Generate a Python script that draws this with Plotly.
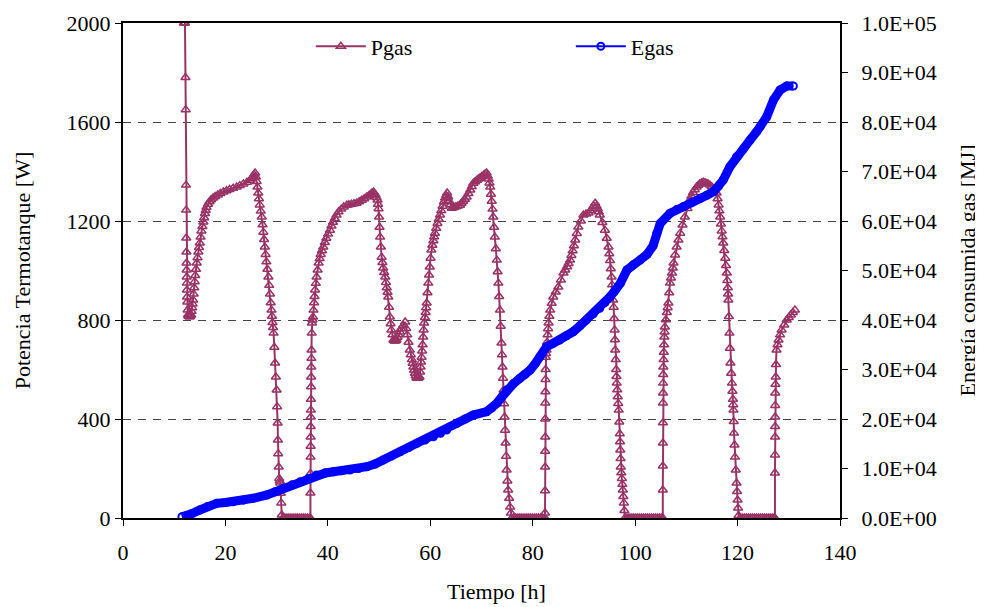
import plotly.graph_objects as go

# ---- data: (time [h], Pgas [W]) ----
pgas_pairs = [
    (11.9, 2000), (12.0, 2000), (12.1, 2000), (12.2, 1780), (12.25, 1650), (12.3, 1345), (12.32, 1244),
    (12.35, 1131), (12.38, 1075), (12.4, 1030), (12.42, 1002), (12.44, 974), (12.46, 949), (12.48, 921),
    (12.5, 893), (12.55, 873), (12.6, 840), (12.7, 820), (12.8, 815), (12.9, 815), (13.0, 812), (13.1, 815),
    (13.2, 818), (13.3, 820), (13.4, 835), (13.5, 850), (13.6, 865), (13.7, 881), (13.8, 905), (13.9, 930),
    (14.0, 955), (14.1, 980), (14.25, 1005), (14.4, 1030), (14.55, 1052), (14.7, 1075), (14.85, 1093),
    (15.0, 1111), (15.15, 1135), (15.3, 1160), (15.5, 1178), (15.7, 1196), (15.85, 1213), (16.0, 1230),
    (16.15, 1243), (16.3, 1256), (16.6, 1268), (16.9, 1278), (17.2, 1286), (17.6, 1293), (18.0, 1299),
    (18.5, 1305), (19.0, 1311), (19.6, 1317), (20.2, 1322), (20.8, 1327), (21.5, 1332), (22.2, 1337),
    (22.8, 1343), (23.5, 1350), (24.2, 1357), (24.8, 1365), (25.1, 1372), (25.4, 1380), (25.6, 1387),
    (25.8, 1394), (25.95, 1378), (26.1, 1360), (26.25, 1337), (26.4, 1313), (26.55, 1290), (26.7, 1265),
    (26.9, 1240), (27.1, 1216), (27.25, 1185), (27.4, 1155), (27.55, 1125), (27.7, 1095), (27.85, 1065),
    (28.0, 1035), (28.2, 1005), (28.4, 974), (28.55, 940), (28.7, 905), (28.85, 870), (29.0, 840),
    (29.1, 815), (29.2, 790), (29.3, 770), (29.4, 747), (29.55, 690), (29.7, 626), (29.85, 570), (30.0, 517),
    (30.1, 450), (30.2, 384), (30.25, 315), (30.3, 260), (30.4, 206), (30.5, 160), (30.6, 150), (30.7, 141),
    (30.8, 100), (30.9, 61), (31.0, 12), (31.2, 0), (31.6, 0), (32.0, 0), (32.4, 0), (32.8, 0), (33.2, 0),
    (33.6, 0), (34.0, 0), (34.4, 0), (34.8, 0), (35.2, 0), (35.6, 0), (36.0, 0), (36.4, 0),
    (36.6, 0), (36.6, 101), (36.61, 180), (36.62, 246), (36.63, 290), (36.64, 327), (36.65, 370), (36.66, 408),
    (36.68, 436), (36.7, 480), (36.72, 530), (36.74, 570), (36.76, 610), (36.78, 645), (36.8, 679),
    (36.85, 747), (36.9, 788), (37.0, 800), (37.1, 812), (37.2, 840), (37.3, 870), (37.4, 895), (37.5, 921),
    (37.65, 948), (37.8, 974), (38.0, 1002), (38.2, 1030), (38.4, 1048), (38.6, 1065), (38.85, 1080),
    (39.1, 1095), (39.4, 1113), (39.7, 1130), (40.05, 1147), (40.4, 1163), (40.7, 1180), (41.0, 1195),
    (41.35, 1210), (41.7, 1224), (42.1, 1237), (42.6, 1248), (43.1, 1257), (43.7, 1264), (44.1, 1266),
    (44.6, 1268), (45.1, 1270), (45.6, 1272), (46.1, 1278), (46.6, 1284), (47.1, 1290), (47.6, 1297),
    (48.0, 1302), (48.3, 1307), (48.6, 1312), (48.9, 1317), (49.1, 1311), (49.3, 1305), (49.5, 1295),
    (49.7, 1285), (49.8, 1268), (49.9, 1250), (50.0, 1216), (50.1, 1175), (50.2, 1135), (50.35, 1095),
    (50.5, 1054), (50.65, 1032), (50.8, 1010), (51.0, 992), (51.2, 974), (51.35, 952), (51.5, 930),
    (51.65, 912), (51.8, 893), (51.95, 852), (52.1, 812), (52.25, 785), (52.4, 760), (52.6, 740), (52.8, 719),
    (52.95, 716), (53.1, 715), (53.25, 716), (53.4, 719), (53.6, 730), (53.8, 740), (54.05, 752), (54.3, 765),
    (54.7, 778), (55.1, 792), (55.3, 766), (55.5, 740), (55.75, 710), (56.0, 679), (56.2, 660), (56.4, 640),
    (56.55, 625), (56.7, 610), (56.85, 597), (57.0, 585), (57.15, 575), (57.3, 566), (57.45, 565), (57.6, 565),
    (57.75, 567), (57.9, 570), (58.0, 590), (58.1, 610), (58.2, 630), (58.3, 650), (58.4, 675), (58.5, 700),
    (58.6, 731), (58.7, 760), (58.8, 788), (58.95, 810), (59.1, 830), (59.2, 850), (59.3, 869), (59.45, 910),
    (59.6, 949), (59.75, 982), (59.9, 1014), (60.05, 1050), (60.2, 1083), (60.4, 1102), (60.6, 1120),
    (60.75, 1136), (60.9, 1151), (61.15, 1171), (61.4, 1190), (61.65, 1207), (61.9, 1224), (62.15, 1242),
    (62.4, 1260), (62.65, 1277), (62.9, 1293), (63.1, 1303), (63.3, 1313), (63.5, 1297), (63.7, 1280),
    (63.95, 1266), (64.2, 1252), (64.6, 1255), (65.0, 1258), (65.4, 1261), (65.8, 1264), (66.1, 1272),
    (66.4, 1280), (66.75, 1288), (67.1, 1297), (67.45, 1311), (67.8, 1325), (68.1, 1339), (68.4, 1353),
    (68.75, 1359), (69.1, 1365), (69.4, 1370), (69.7, 1374), (70.05, 1380), (70.4, 1385), (70.7, 1390),
    (71.0, 1394), (71.2, 1382), (71.4, 1370), (71.55, 1354), (71.7, 1337), (71.85, 1308), (72.0, 1280),
    (72.15, 1248), (72.3, 1216), (72.45, 1175), (72.6, 1135), (72.8, 1088), (73.0, 1042), (73.15, 995),
    (73.3, 949), (73.45, 895), (73.6, 840), (73.75, 775), (73.9, 707), (74.0, 660), (74.1, 610), (74.2, 565),
    (74.3, 517), (74.4, 462), (74.5, 408), (74.6, 355), (74.7, 303), (74.8, 250), (74.9, 194), (75.05, 150),
    (75.2, 113), (75.4, 80), (75.6, 44), (75.75, 20), (75.9, 0), (76.3, 0), (76.7, 0), (77.1, 0), (77.5, 0),
    (77.9, 0), (78.3, 0), (78.7, 0), (79.1, 0), (79.5, 0), (79.9, 0), (80.3, 0), (80.7, 0), (81.1, 0),
    (81.5, 0), (81.9, 0), (82.3, 0),
    (82.4, 0), (82.4, 20), (82.41, 110), (82.42, 206), (82.43, 270), (82.44, 327), (82.45, 400), (82.46, 465),
    (82.48, 510), (82.5, 560), (82.52, 600), (82.55, 650), (82.6, 665), (82.7, 679), (82.8, 710), (82.9, 740),
    (83.0, 765), (83.1, 788), (83.25, 815), (83.4, 840), (83.7, 868), (84.0, 893), (84.5, 913), (85.0, 933),
    (85.5, 962), (86.0, 990), (86.35, 1002), (86.7, 1015), (87.0, 1028), (87.3, 1042), (87.55, 1061),
    (87.8, 1080), (88.05, 1100), (88.3, 1123), (88.6, 1150), (88.9, 1176), (89.4, 1200), (89.9, 1224),
    (90.4, 1228), (90.9, 1232), (91.25, 1241), (91.6, 1250), (91.9, 1261), (92.2, 1272), (92.45, 1261),
    (92.7, 1250), (92.9, 1237), (93.1, 1224), (93.6, 1194), (94.1, 1163), (94.45, 1130), (94.8, 1095),
    (94.95, 1068), (95.1, 1040), (95.25, 1007), (95.4, 974), (95.5, 942), (95.6, 910), (95.7, 881),
    (95.8, 852), (95.9, 806), (96.0, 760), (96.05, 720), (96.1, 679), (96.2, 640), (96.3, 600), (96.35, 572),
    (96.4, 545), (96.5, 518), (96.6, 490), (96.7, 463), (96.8, 436), (96.9, 388), (97.0, 340), (97.05, 308),
    (97.1, 275), (97.15, 240), (97.2, 206), (97.3, 183), (97.4, 160), (97.5, 136), (97.6, 113), (97.7, 87),
    (97.8, 61), (97.9, 30), (98.0, 0), (98.4, 0), (98.8, 0), (99.2, 0), (99.6, 0), (100.0, 0), (100.4, 0),
    (100.8, 0), (101.2, 0), (101.6, 0), (102.0, 0), (102.4, 0), (102.8, 0), (103.2, 0), (103.6, 0),
    (104.0, 0), (104.4, 0), (104.8, 0), (105.2, 0),
    (105.4, 0), (105.4, 113), (105.41, 210), (105.42, 303), (105.43, 385), (105.44, 465), (105.45, 505),
    (105.46, 545), (105.48, 580), (105.5, 610), (105.55, 640), (105.6, 670), (105.65, 700), (105.7, 731),
    (105.75, 752), (105.8, 772), (106.0, 801), (106.2, 830), (106.35, 850), (106.5, 869), (106.65, 910),
    (106.8, 949), (107.0, 970), (107.2, 990), (107.35, 1010), (107.5, 1030), (107.8, 1063), (108.1, 1095),
    (108.45, 1123), (108.8, 1151), (109.25, 1184), (109.7, 1216), (110.2, 1251), (110.7, 1285), (111.0, 1300),
    (111.3, 1315), (111.65, 1326), (112.0, 1337), (112.3, 1344), (112.6, 1350), (112.95, 1354), (113.3, 1357),
    (113.65, 1355), (114.0, 1352), (114.3, 1349), (114.6, 1345), (114.95, 1338), (115.3, 1330), (115.6, 1322),
    (115.9, 1313), (116.1, 1290), (116.3, 1265), (116.45, 1241), (116.6, 1216), (116.75, 1188), (116.9, 1160),
    (117.05, 1136), (117.2, 1111), (117.4, 1081), (117.6, 1050), (117.75, 1020), (117.9, 990), (118.0, 960),
    (118.1, 930), (118.15, 905), (118.2, 881), (118.3, 814), (118.4, 747), (118.5, 686), (118.6, 626),
    (118.75, 585), (118.9, 545), (119.0, 512), (119.1, 480), (119.15, 458), (119.2, 436), (119.25, 390),
    (119.3, 343), (119.4, 295), (119.5, 246), (119.65, 194), (119.8, 141), (119.9, 107), (120.0, 73),
    (120.1, 40), (120.2, 10), (120.5, 0), (120.9, 0), (121.3, 0), (121.7, 0), (122.1, 0), (122.5, 0),
    (122.9, 0), (123.3, 0), (123.7, 0), (124.1, 0), (124.5, 0), (124.9, 0), (125.3, 0), (125.7, 0),
    (126.1, 0), (126.5, 0), (126.9, 0), (127.2, 0),
    (127.3, 0), (127.3, 182), (127.31, 255), (127.32, 327), (127.33, 370), (127.34, 408), (127.35, 455),
    (127.36, 505), (127.4, 540), (127.45, 570), (127.5, 620), (127.6, 679), (127.8, 700), (128.0, 719),
    (128.3, 740), (128.6, 760), (129.1, 780), (129.6, 800), (130.0, 810), (130.4, 820), (130.8, 830),
    (131.2, 840),
]
t_pgas = [p[0] for p in pgas_pairs]
p_gas = [p[1] for p in pgas_pairs]

# ---- (time [h], Egas [MJ]) ----
t_egas = [
    11.5, 12.5, 13.5, 15.0, 16.5, 18.3, 20.0, 21.5, 23.5, 25.4, 28.1, 29.7, 31.3, 33.0, 34.6, 36.2,
    37.8, 39.5, 41.1, 42.7, 44.3, 46.0, 47.6, 49.2, 50.8, 52.5, 54.1, 55.8, 57.4, 59.0, 60.6, 62.0,
    63.2, 65.2, 66.8, 68.4, 71.0, 72.0, 73.0, 74.0, 74.9, 76.2, 77.5, 78.5, 79.5, 80.5, 81.4, 82.7,
    84.0, 85.3, 86.6, 87.9, 89.2, 90.5, 91.8, 93.1, 94.1, 95.1, 96.1, 97.1, 98.4, 99.7, 101.0, 102.3,
    103.5, 104.2, 104.9, 106.8, 108.1, 109.4, 111.0, 112.7, 114.0, 115.3, 116.3, 117.2, 118.5, 119.8,
    121.1, 122.4, 123.7, 124.4, 125.7, 127.0, 128.3, 129.6, 130.9,
]
e_gas = [
    260, 500, 900, 1616, 2300, 2970, 3150, 3290, 3600, 3980, 4650, 5300, 6000, 6700, 7330, 8000,
    8690, 9100, 9350, 9550, 9700, 10000, 10360, 10900, 11720, 12550, 13390, 14250, 15090, 15750, 16420, 17100,
    17780, 19130, 20000, 20800, 21470, 22200, 23170, 24500, 25860, 27100, 28220, 29000, 29900, 31200, 32580, 34600,
    35300, 35960, 36800, 37630, 38800, 40000, 41200, 42360, 43500, 44700, 46000, 47400, 50100, 51200, 52100, 53200,
    55000, 57500, 59500, 61550, 62300, 62880, 63700, 64580, 65200, 65900, 67000, 68280, 70970, 73000,
    74500, 76300, 78000, 79040, 81060, 84440, 86460, 87270, 87270,
]

x_ticks = [0, 20, 40, 60, 80, 100, 120, 140]
y1_ticks = [0, 400, 800, 1200, 1600, 2000]
y2_ticks = [0, 10000, 20000, 30000, 40000, 50000, 60000, 70000, 80000, 90000, 100000]
y2_labels = ["0.0E+00", "1.0E+04", "2.0E+04", "3.0E+04", "4.0E+04", "5.0E+04",
             "6.0E+04", "7.0E+04", "8.0E+04", "9.0E+04", "1.0E+05"]

PG = "#993366"
EB = "#0000FF"
FONT = "'Liberation Serif', 'Times New Roman', 'DejaVu Serif', serif"
FS = 22

fig = go.Figure()

fig.add_trace(go.Scatter(
    x=t_pgas, y=p_gas, name="Pgas", mode="lines+markers",
    line=dict(color=PG, width=2),
    marker=dict(symbol="triangle-up-open", size=8, color=PG, line=dict(width=1.5, color=PG)),
    yaxis="y",
))
# dense blue band (the overlapping circle markers of the original)
fig.add_trace(go.Scatter(
    x=t_egas, y=e_gas, mode="lines", showlegend=False, hoverinfo="skip",
    line=dict(color=EB, width=9), yaxis="y2",
))
fig.add_trace(go.Scatter(
    x=t_egas, y=e_gas, name="Egas", mode="lines+markers",
    line=dict(color=EB, width=2),
    marker=dict(symbol="circle-open", size=7, color=EB, line=dict(width=2, color=EB)),
    yaxis="y2",
))

fig.update_layout(
    width=983, height=607,
    margin=dict(l=115, r=151, t=15, b=97, autoexpand=False),
    paper_bgcolor="white", plot_bgcolor="white",
    font=dict(family=FONT, size=FS, color="black"),
    showlegend=True,
    legend=dict(
        orientation="h", x=0.262, xanchor="left", y=0.995, yanchor="top",
        bgcolor="rgba(0,0,0,0)", font=dict(family=FONT, size=FS),
        entrywidth=195, entrywidthmode="pixels", tracegroupgap=0, itemwidth=50,
    ),
    xaxis=dict(
        range=[0, 140], tickvals=x_ticks, ticktext=[str(v) for v in x_ticks],
        showline=True, linecolor="black", linewidth=2, mirror=True,
        ticks="outside", ticklen=6, tickcolor="black", showgrid=False, zeroline=False,
        ticklabelstandoff=8,
    ),
    yaxis=dict(
        range=[0, 2000], tickvals=y1_ticks, ticktext=[str(v) for v in y1_ticks],
        showline=True, linecolor="black", linewidth=2,
        ticks="outside", ticklen=6, tickcolor="black",
        showgrid=True, gridcolor="#444444", gridwidth=1, griddash="8px,7px", zeroline=False,
        title=dict(text="Potencia Termotanque [W]", standoff=30, font=dict(family=FONT, size=FS)),
    ),
    yaxis2=dict(
        range=[0, 100000], tickvals=y2_ticks, ticktext=y2_labels,
        overlaying="y", side="right",
        showline=True, linecolor="black", linewidth=2,
        ticks="outside", ticklen=6, tickcolor="black", showgrid=False, zeroline=False,
        ticklabelstandoff=9,
        title=dict(text="Energía consumida gas [MJ]", standoff=24, font=dict(family=FONT, size=FS)),
    ),
    annotations=[dict(
        text="Tiempo [h]", xref="paper", yref="paper", x=0.521, y=-0.148,
        xanchor="center", yanchor="middle", showarrow=False,
        font=dict(family=FONT, size=FS, color="black"),
    )],
)

fig.write_html("out.html")
